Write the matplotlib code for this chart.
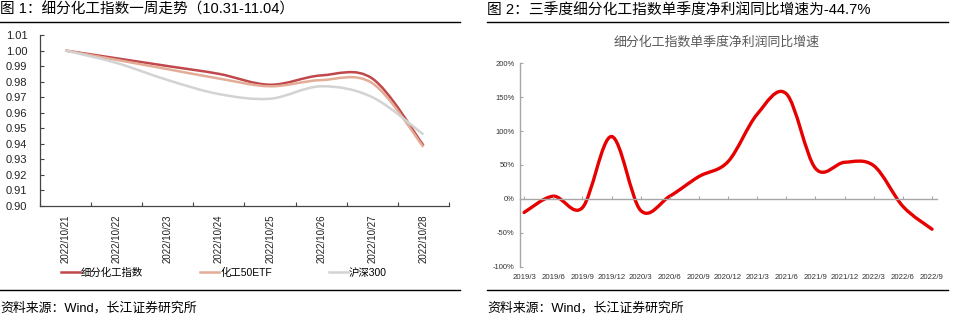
import matplotlib
matplotlib.use('Agg')
import matplotlib.pyplot as plt
import numpy as np
from matplotlib.path import Path
from matplotlib.patches import PathPatch

plt.rcParams['font.family'] = ['Liberation Sans', 'Noto Sans CJK SC', 'DejaVu Sans']

# left chart data
dates = ['2022/10/21', '2022/10/22', '2022/10/23', '2022/10/24',
         '2022/10/25', '2022/10/26', '2022/10/27', '2022/10/28']
chem_index = [1.000, 0.995, 0.990, 0.985, 0.978, 0.984, 0.982, 0.939]
chem_etf = [1.000, 0.994, 0.988, 0.982, 0.977, 0.981, 0.979, 0.938]
hs300 = [1.000, 0.992, 0.981, 0.972, 0.969, 0.977, 0.970, 0.946]
left_names = ['细分化工指数', '化工50ETF', '沪深300']
left_colors = ['#C0474A', '#E2AC97', '#D3D3D3']

# right chart data
quarters = ['2019/3', '2019/6', '2019/9', '2019/12', '2020/3', '2020/6',
            '2020/9', '2020/12', '2021/3', '2021/6', '2021/9', '2021/12',
            '2022/3', '2022/6', '2022/9']
profit_yoy = [-20, 4, -13, 92, -17, 4, 33, 55, 125, 155, 45, 54, 49, -11, -44.7]


def smooth_path(xs, ys):
    # excel-like smoothed line: bezier segments through each point
    pts = np.column_stack([xs, ys]).astype(float)
    n = len(pts)
    verts = [pts[0]]
    codes = [Path.MOVETO]
    for i in range(n - 1):
        p_prev = pts[i - 1] if i > 0 else pts[i]
        p_next2 = pts[i + 2] if i + 2 < n else pts[i + 1]
        c1 = pts[i] + (pts[i + 1] - p_prev) / 6
        c2 = pts[i + 1] - (p_next2 - pts[i]) / 6
        verts += [c1, c2, pts[i + 1]]
        codes += [Path.CURVE4] * 3
    return Path(verts, codes)


fig = plt.figure(figsize=(9.54, 3.22), dpi=100)

# headers and footers
fig.text(0.0, 0.972, '图 1：细分化工指数一周走势（10.31-11.04）', fontsize=10.5,
         va='center', ha='left', color='#000000')
fig.text(487 / 954, 0.966, '图 2：三季度细分化工指数单季度净利润同比增速为-44.7%', fontsize=10.6,
         va='center', ha='left', color='#000000')
fig.add_artist(plt.Line2D([0, 460 / 954], [1 - 21.5 / 322] * 2, color='black', lw=1))
fig.add_artist(plt.Line2D([487 / 954, 948 / 954], [1 - 21.5 / 322] * 2, color='black', lw=1))
fig.add_artist(plt.Line2D([0, 460 / 954], [1 - 290 / 322] * 2, color='black', lw=1))
fig.add_artist(plt.Line2D([487 / 954, 948 / 954], [1 - 290 / 322] * 2, color='black', lw=1))
fig.text(0.0, 1 - 308 / 322, '资料来源：Wind，长江证券研究所', fontsize=9.3,
         va='center', ha='left')
fig.text(487 / 954, 1 - 308 / 322, '资料来源：Wind，长江证券研究所', fontsize=9.3,
         va='center', ha='left')

# left chart
ax1 = fig.add_axes([40 / 954, 1 - 206 / 322, 409 / 954, 171 / 322])
xs = np.arange(len(dates)) + 0.5
for vals, name, col in zip([chem_index, chem_etf, hs300], left_names, left_colors):
    ax1.add_patch(PathPatch(smooth_path(xs, vals), fill=False, edgecolor=col, lw=1.8))
ax1.set_xlim(0, len(dates))
ax1.set_ylim(0.90, 1.01)
ax1.set_yticks(np.arange(0.90, 1.0101, 0.01))
ax1.set_yticklabels([f'{v:.2f}' for v in np.arange(0.90, 1.0101, 0.01)])
ax1.set_xticks(np.arange(len(dates) + 1))
ax1.set_xticklabels([])
ax1.set_xticks(xs, minor=True)
ax1.set_xticklabels(dates, minor=True, rotation=90, fontsize=7, color='#222222')
ax1.tick_params(axis='x', which='minor', length=0, pad=6)
ax1.tick_params(axis='y', which='major', direction='in', length=3, color='#444444',
                labelsize=8, labelcolor='#222222', pad=9)
ax1.tick_params(axis='x', which='major', direction='in', length=3, color='#444444')
for s in ['top', 'right']:
    ax1.spines[s].set_visible(False)
for s in ['left', 'bottom']:
    ax1.spines[s].set_color('#444444')
    ax1.spines[s].set_linewidth(0.9)

handles = [plt.Line2D([], [], color=c, lw=1.8) for c in left_colors]
ax1.legend(handles, left_names, loc='center', bbox_to_anchor=(0.45, -0.39), ncol=3,
           frameon=False, fontsize=7.5, handlelength=1.8, handletextpad=0.1,
           columnspacing=5.5)

# right chart
fig.text(717 / 954, 1 - 42 / 322, '细分化工指数单季度净利润同比增速', fontsize=9.3,
         color='#595959', ha='center', va='center')
ax2 = fig.add_axes([520 / 954, 1 - 266.7 / 322, 417 / 954, 203.4 / 322])
qx = np.arange(len(quarters))
ax2.add_patch(PathPatch(smooth_path(qx, profit_yoy), fill=False, edgecolor='#E60000', lw=2.4,
                        capstyle='round'))
ax2.set_xlim(-0.14, 14.17)
ax2.set_ylim(-100, 200)
ax2.set_yticks(np.arange(-100, 201, 50))
ax2.set_yticklabels([f'{v}%' for v in range(-100, 201, 50)])
ax2.spines['bottom'].set_position(('data', 0))
for s in ['top', 'right']:
    ax2.spines[s].set_visible(False)
for s in ['left', 'bottom']:
    ax2.spines[s].set_color('#A6A6A6')
    ax2.spines[s].set_linewidth(1.0)
ax2.set_xticks(qx)
ax2.set_xticklabels([])
ax2.tick_params(axis='x', direction='in', length=2, color='#A6A6A6')
ax2.tick_params(axis='y', direction='in', length=2, color='#A6A6A6', labelsize=5.5,
                labelcolor='#333333', pad=4)
for i, q in enumerate(quarters):
    ax2.text(i, -111, q, ha='center', va='top', fontsize=5.6, color='#333333',
             transform=ax2.transData)

fig.savefig('out.png', dpi=100)
